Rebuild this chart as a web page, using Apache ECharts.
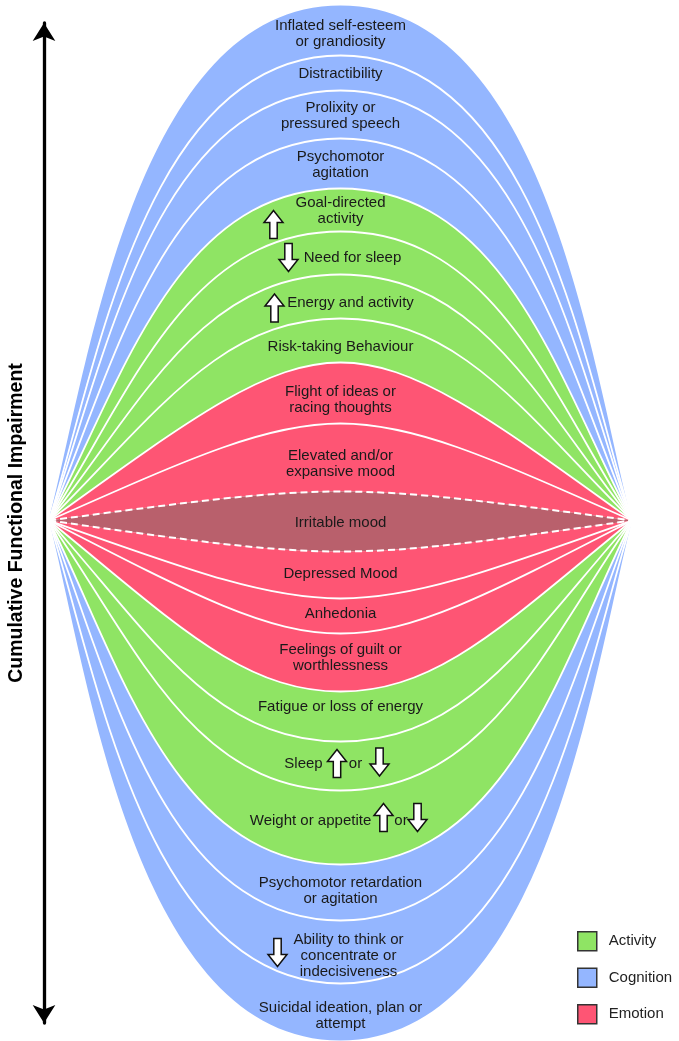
<!DOCTYPE html>
<html><head><meta charset="utf-8">
<script src="https://cdn.jsdelivr.net/npm/echarts@6/dist/echarts.min.js"></script>
<style>html,body{margin:0;padding:0;background:#fff}#c{width:679px;height:1041px}</style>
</head><body><div id="c"></div>
<script>
// ---------- data ----------
const categories = [
  "Inflated self-esteem\nor grandiosity", "Distractibility", "Prolixity or\npressured speech",
  "Psychomotor\nagitation", "Goal-directed\nactivity", "Need for sleep", "Energy and activity",
  "Risk-taking Behaviour", "Flight of ideas or\nracing thoughts", "Elevated and/or\nexpansive mood",
  "Irritable mood", "Depressed Mood", "Anhedonia", "Feelings of guilt or\nworthlessness",
  "Fatigue or loss of energy", "Sleep", "Weight or appetite",
  "Psychomotor retardation\nor agitation", "Ability to think or\nconcentrate or\nindecisiveness",
  "Suicidal ideation, plan or\nattempt"
];
const domains = [
  "Cognition", "Cognition", "Cognition", "Cognition",
  "Activity", "Activity", "Activity", "Activity",
  "Emotion", "Emotion", "Emotion", "Emotion", "Emotion", "Emotion",
  "Activity", "Activity", "Activity",
  "Cognition", "Cognition", "Cognition"
];
// direction markers attached to each symptom (up = increased, down = decreased)
const markers = [[], [], [], [], ["up"], ["down"], ["up"], [], [], [], [], [], [], [], [], ["up", "down"], ["up", "down"], [], ["down"], []];
// band boundaries: height of each boundary curve at the centre (top to bottom)
const boundaries = [515, 465, 430, 382, 332, 289, 246, 202, 158, 97, 29, -31, -78, -113, -171, -221, -270, -344, -400, -463, -520];
const dashedBoundaries = [10, 11];
const overlapBand = 10;
const legendNames = ["Activity", "Cognition", "Emotion"];
const axisTitle = "Cumulative Functional Impairment";
const connector = "or";

// ---------- styles / layout ----------
const colors = { Activity: "#8FE464", Cognition: "#94B6FF", Emotion: "#FE5574" };
const overlapColor = "#B9606C";
const FONT = "'Liberation Sans', Arial, sans-serif";
const HALF = 291.5;
// curve shape: inner (lens) and outer (ellipse-like) control handles, blended by boundary height
const SHAPE = { innerH: 158, outerH: 515, inner: [146, 0.667, 73], outer: [40, 0.30, 205] };
const labelNudge = [3.5, 0.5, 1.5, 1, 1, 4.5, 6, 6, 6.5, 6, 1, -1.5, -2.5, -5, -10, -2.5, -7, -1.5, 3.5, 3.5];
const markLayout = {
  4: { textDx: 0, arrows: [[-67, 13.5]] },
  5: { textDx: 12, arrows: [[-52, 0]] },
  6: { textDx: 10, arrows: [[-66, 5.5]] },
  15: { textDx: -37, arrows: [[-3.5, 0], [39, -1.5]], orDx: 15 },
  16: { textDx: -30, arrows: [[43, -3], [77, -3]], orDx: 60.5 },
  18: { textDx: 8, arrows: [[-63, -3]] }
};

function shapeOf(h) {
  const a = Math.abs(h);
  let w = (a - SHAPE.innerH) / (SHAPE.outerH - SHAPE.innerH);
  w = Math.sqrt(Math.max(0, Math.min(1, w)));
  return SHAPE.inner.map((v, i) => v + (SHAPE.outer[i] - v) * w);
}
// control points (data units) of the two cubic halves of one boundary curve
function ctrl(h) {
  const s = shapeOf(h), al = s[0], be = s[1] * h, ga = s[2];
  return [[-HALF, 0], [-HALF + al, be], [-ga, h], [0, h], [ga, h], [HALF - al, be], [HALF, 0]];
}
function f(p) { return p[0].toFixed(2) + " " + p[1].toFixed(2); }
function pts(api, h) { return ctrl(h).map(p => api.coord(p)); }
function curvePath(api, h) {
  const p = pts(api, h);
  return "M" + f(p[0]) + " C" + f(p[1]) + " " + f(p[2]) + " " + f(p[3]) + " C" + f(p[4]) + " " + f(p[5]) + " " + f(p[6]);
}
function bandPath(api, i) {
  const a = pts(api, boundaries[i]), b = pts(api, boundaries[i + 1]);
  return "M" + f(a[0]) + " C" + f(a[1]) + " " + f(a[2]) + " " + f(a[3]) + " C" + f(a[4]) + " " + f(a[5]) + " " + f(a[6]) +
    " C" + f(b[5]) + " " + f(b[4]) + " " + f(b[3]) + " C" + f(b[2]) + " " + f(b[1]) + " " + f(b[0]) + " Z";
}
function arrow(cx, cy, dir) {
  const H = 14, hw = 9.5, sw = 3.7, hh = 12, s = dir === "up" ? 1 : -1;
  const tip = cy - s * H, base = cy + s * H, neck = tip + s * hh;
  return {
    type: "polygon",
    shape: { points: [[cx, tip], [cx + hw, neck], [cx + sw, neck], [cx + sw, base], [cx - sw, base], [cx - sw, neck], [cx - hw, neck]] },
    style: { fill: "#fff", stroke: "#111", lineWidth: 1.5, lineJoin: "miter" }
  };
}
function fillSeries(name) {
  const idx = [];
  domains.forEach((d, i) => { if (d === name) idx.push({ value: [0, i] }); });
  return {
    name: name, type: "custom", coordinateSystem: "cartesian2d", xAxisIndex: 0, yAxisIndex: 0,
    silent: true, itemStyle: { color: colors[name] }, data: idx,
    renderItem: function (params, api) {
      const i = api.value(1);
      return {
        type: "path", shape: { pathData: bandPath(api, i) },
        style: { fill: i === overlapBand ? overlapColor : colors[name], stroke: null }
      };
    }
  };
}

const chart = echarts.init(document.getElementById("c"), null, { renderer: "canvas" });
chart.setOption({
  animation: false,
  backgroundColor: "#fff",
  grid: [
    { left: 49, right: 47, top: 0, bottom: 0 },
    { left: 44, width: 10, top: 23, bottom: 18 }
  ],
  xAxis: [
    { type: "value", min: -HALF, max: HALF, show: false, gridIndex: 0 },
    { type: "value", min: 0, max: 1, show: false, gridIndex: 1 }
  ],
  yAxis: [
    { type: "value", min: -520.5, max: 520.5, show: false, gridIndex: 0 },
    {
      type: "value", min: 0, max: 1, gridIndex: 1, position: "left",
      name: axisTitle, nameLocation: "middle", nameRotate: 90, nameGap: 17,
      nameTextStyle: { fontFamily: FONT, fontWeight: "bold", fontSize: 19.5, color: "#000" },
      axisLine: { show: true, symbol: ["arrow", "arrow"], symbolSize: [17, 18], lineStyle: { color: "#000", width: 3.3 } },
      axisTick: { show: false }, axisLabel: { show: false }, splitLine: { show: false }
    }
  ],
  legend: {
    data: legendNames, orient: "vertical", left: 572, top: 926,
    itemWidth: 19, itemHeight: 19, itemGap: 16, icon: "rect",
    itemStyle: { borderColor: "#333", borderWidth: 1.5 },
    textStyle: { fontFamily: FONT, fontSize: 15, color: "#222", padding: [0, 0, 0, 7] },
    selectedMode: false
  },
  series: [
    fillSeries("Cognition"), fillSeries("Activity"), fillSeries("Emotion"),
    {
      name: "boundaries", type: "custom", coordinateSystem: "cartesian2d", silent: true,
      data: boundaries.map((b, i) => ({ value: [0, i] })).slice(1, boundaries.length - 1),
      renderItem: function (params, api) {
        const i = api.value(1);
        const dashed = dashedBoundaries.indexOf(i) >= 0;
        return {
          type: "path", shape: { pathData: curvePath(api, boundaries[i]) },
          style: { fill: null, stroke: "#fff", lineWidth: dashed ? 2 : 1.8, lineDash: dashed ? [7, 4] : null }
        };
      }
    },
    {
      name: "labels", type: "custom", coordinateSystem: "cartesian2d", silent: true,
      data: categories.map((c, i) => ({ value: [0, i] })),
      renderItem: function (params, api) {
        const i = api.value(1);
        const top = api.coord([0, boundaries[i]]), bot = api.coord([0, boundaries[i + 1]]);
        const cx = top[0], cy = (top[1] + bot[1]) / 2 + labelNudge[i];
        const lay = markLayout[i] || { textDx: 0, arrows: [] };
        const children = [{
          type: "text", x: cx + lay.textDx, y: cy,
          style: { text: categories[i], fill: "#1a1a1a", fontFamily: FONT, fontSize: 15, lineHeight: 16, align: "center", verticalAlign: "middle" }
        }];
        markers[i].forEach((m, j) => {
          const a = lay.arrows[j];
          children.push(arrow(cx + a[0], cy + a[1], m));
        });
        if (lay.orDx !== undefined) {
          children.push({
            type: "text", x: cx + lay.orDx, y: cy,
            style: { text: connector, fill: "#1a1a1a", fontFamily: FONT, fontSize: 15, align: "center", verticalAlign: "middle" }
          });
        }
        return { type: "group", children: children };
      }
    }
  ]
});
</script>
</body></html>
